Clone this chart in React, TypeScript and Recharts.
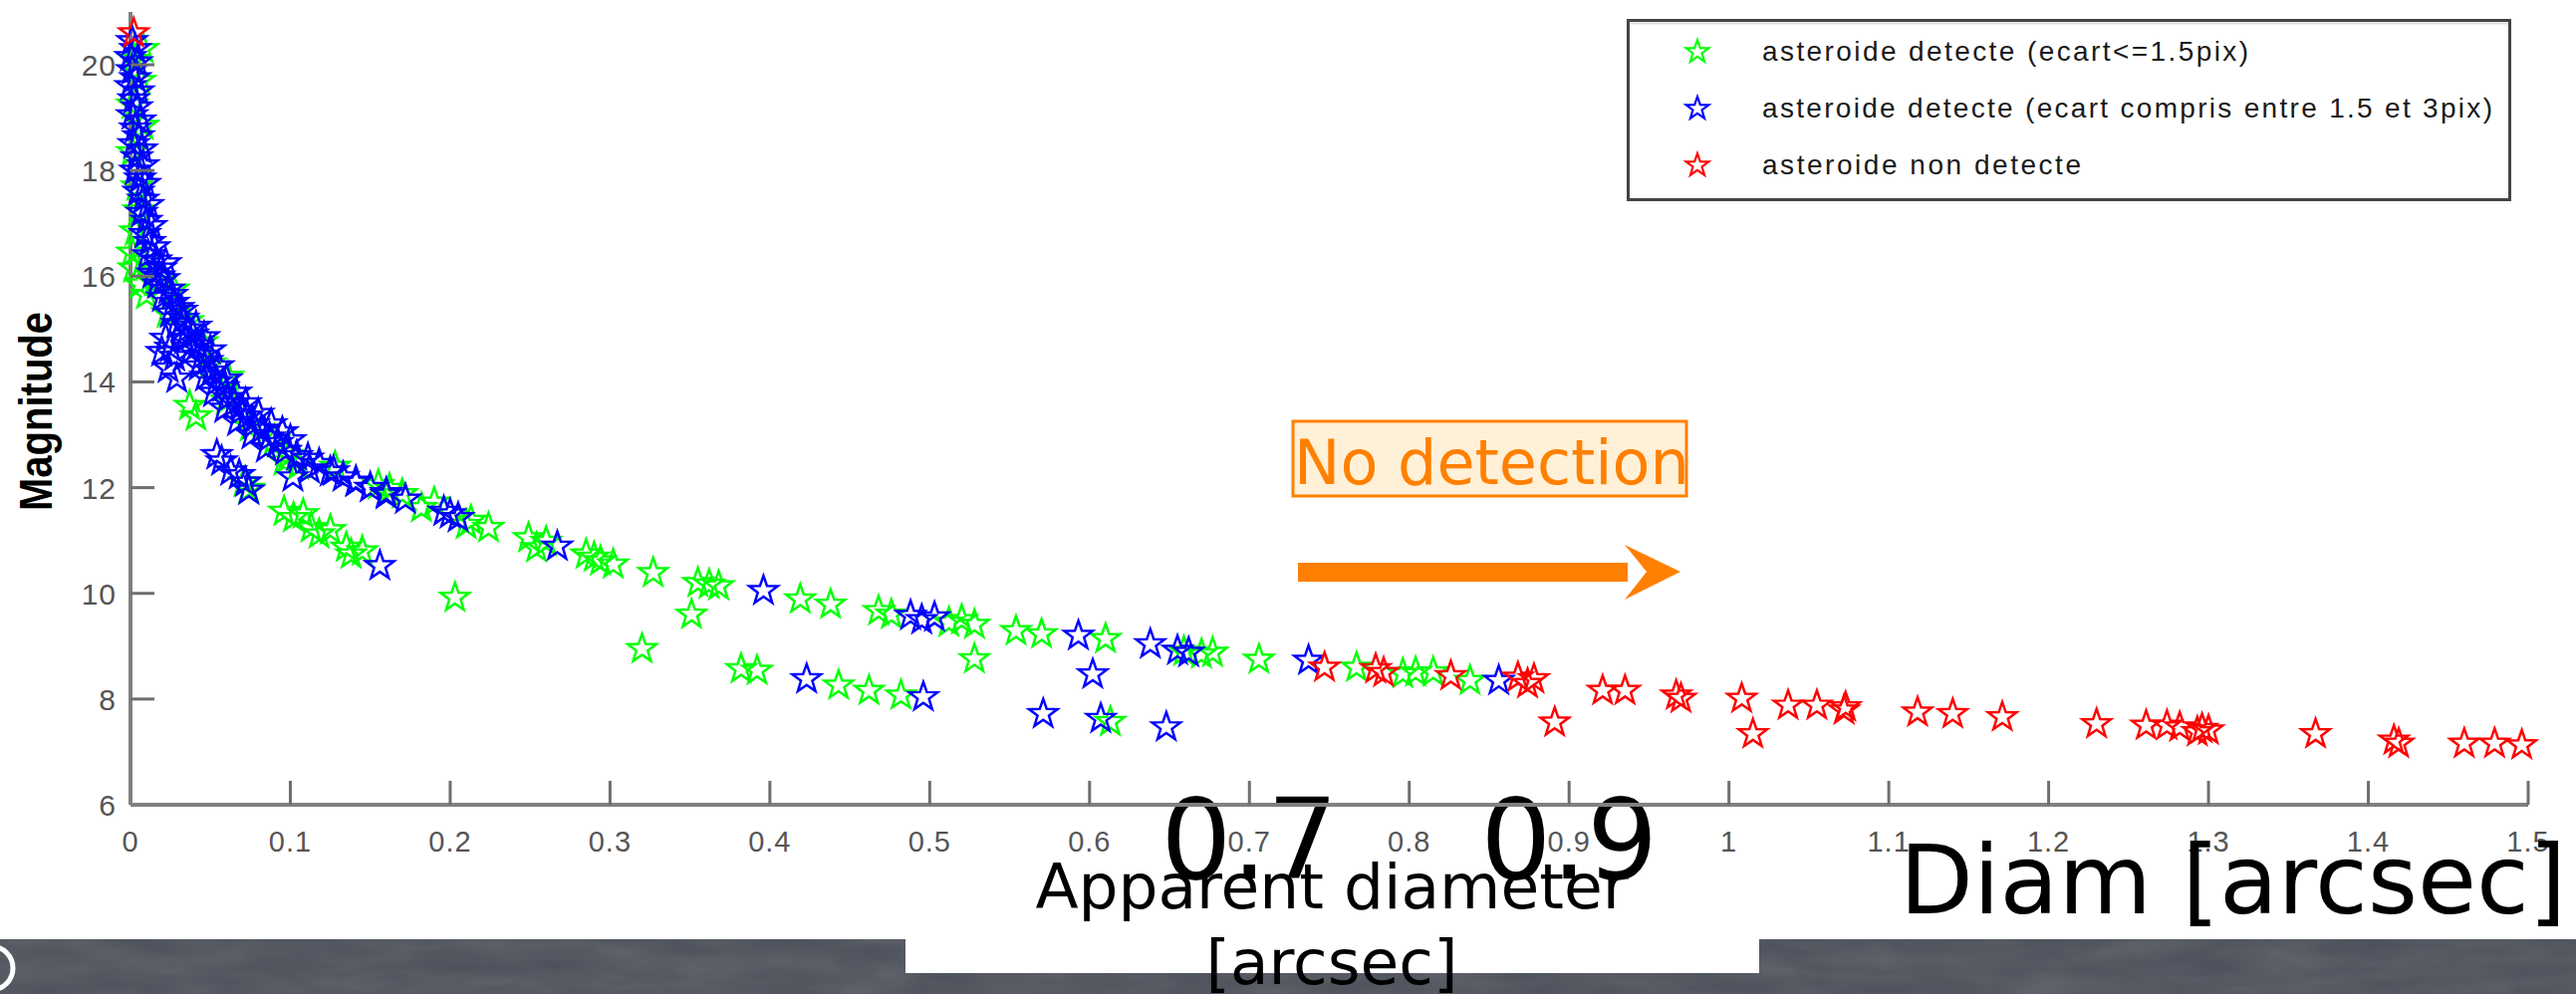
import React from 'react';
import { ScatterChart, Scatter, XAxis, YAxis, Legend, ReferenceLine } from 'recharts';

const W = 2586;
const H = 998;

const X_TICKS = [0, 0.1, 0.2, 0.3, 0.4, 0.5, 0.6, 0.7, 0.8, 0.9, 1, 1.1, 1.2, 1.3, 1.4, 1.5];
const Y_TICKS = [6, 8, 10, 12, 14, 16, 18, 20];
const BIG_TICKS = ['0.7', '0.9'];

// [apparent diameter (arcsec), magnitude]
const GREEN_PTS: [number, number][] = [
  [0.008, 20.3], [0.002, 20.1], [0.006, 19.7], [0.001, 19.25], [0.008, 18.85],
  [0.001, 18.35], [0.004, 17.7], [0.005, 17.25], [0.003, 16.85], [0.001, 16.45],
  [0.002, 16.15], [0.008, 16.3], [0.006, 15.85], [0.01, 15.65], [0.015, 15.9],
  [0.027, 15.75], [0.023, 15.3], [0.036, 15.15], [0.045, 14.75], [0.05, 14.35],
  [0.061, 14.1], [0.06, 13.65], [0.037, 13.55], [0.041, 13.35], [0.075, 13.15],
  [0.09, 12.9], [0.096, 12.5], [0.099, 12.62], [0.105, 12.42], [0.071, 12.1],
  [0.074, 11.98], [0.128, 12.4], [0.155, 12.05], [0.162, 11.98], [0.17, 11.88],
  [0.182, 11.62], [0.19, 11.72], [0.213, 11.38], [0.21, 11.3], [0.224, 11.24],
  [0.249, 11.05], [0.254, 10.86], [0.26, 10.98], [0.285, 10.74], [0.29, 10.68],
  [0.294, 10.61], [0.302, 10.55], [0.327, 10.39], [0.355, 10.2], [0.362, 10.17],
  [0.368, 10.14], [0.351, 9.6], [0.32, 8.95], [0.419, 9.89], [0.438, 9.79],
  [0.468, 9.67], [0.476, 9.6], [0.512, 9.45], [0.52, 9.5], [0.528, 9.41],
  [0.554, 9.29], [0.57, 9.23], [0.61, 9.14], [0.528, 8.76], [0.659, 8.9],
  [0.67, 8.85], [0.677, 8.88], [0.706, 8.75], [0.767, 8.6], [0.796, 8.48],
  [0.804, 8.51], [0.815, 8.51], [0.838, 8.35],
  [0.096, 11.55], [0.102, 11.43], [0.108, 11.5], [0.113, 11.24], [0.118, 11.12],
  [0.125, 11.2], [0.135, 10.87], [0.138, 10.74], [0.145, 10.8], [0.203, 9.92],
  [0.382, 8.57], [0.392, 8.54], [0.443, 8.26], [0.462, 8.16], [0.482, 8.07],
  [0.613, 7.57],
];

const BLUE_PTS: [number, number][] = [
  [0.001, 20.45], [0.003, 20.3], [0.0, 20.15], [0.004, 20.05], [0.001, 19.9],
  [0.003, 19.75], [0.0, 19.6], [0.005, 19.5], [0.002, 19.35], [0.004, 19.2],
  [0.001, 19.05], [0.006, 18.95], [0.003, 18.8], [0.005, 18.65], [0.002, 18.5],
  [0.007, 18.4], [0.004, 18.25], [0.008, 18.1], [0.003, 18.0], [0.006, 17.85],
  [0.009, 17.75], [0.005, 17.6], [0.008, 17.45], [0.011, 17.35], [0.007, 17.2],
  [0.01, 17.05], [0.013, 16.95], [0.009, 16.8], [0.012, 16.65], [0.015, 16.55],
  [0.011, 16.4], [0.016, 16.3], [0.019, 16.15], [0.014, 16.05], [0.021, 15.95],
  [0.017, 15.85], [0.024, 15.75], [0.02, 15.6], [0.027, 15.5], [0.03, 15.4],
  [0.025, 15.3], [0.033, 15.2], [0.029, 15.1], [0.036, 15.0], [0.039, 14.9],
  [0.034, 14.8], [0.042, 14.7], [0.038, 14.6], [0.045, 14.5], [0.048, 14.4],
  [0.043, 14.3], [0.051, 14.2], [0.047, 14.1], [0.054, 14.0], [0.058, 13.9],
  [0.052, 13.8], [0.061, 13.7], [0.065, 13.6], [0.059, 13.5], [0.069, 13.45],
  [0.073, 13.35], [0.067, 13.25], [0.077, 13.2], [0.082, 13.1], [0.076, 13.0],
  [0.087, 12.95], [0.092, 12.85], [0.085, 12.75], [0.097, 12.7], [0.104, 12.6],
  [0.111, 12.55], [0.118, 12.45], [0.112, 12.35], [0.125, 12.3], [0.133, 12.2],
  [0.141, 12.1], [0.15, 12.0], [0.16, 11.9], [0.127, 12.31], [0.141, 12.12],
  [0.16, 11.87], [0.172, 11.78], [0.196, 11.55], [0.2, 11.5], [0.205, 11.43],
  [0.267, 10.89], [0.396, 10.05], [0.488, 9.58], [0.495, 9.5], [0.503, 9.55],
  [0.593, 9.2], [0.638, 9.04], [0.655, 8.92], [0.662, 8.88], [0.737, 8.73],
  [0.856, 8.35],
  [0.018, 16.0], [0.022, 16.25], [0.026, 15.65], [0.032, 15.35], [0.041, 15.05],
  [0.046, 14.85], [0.05, 14.6], [0.055, 14.3], [0.06, 14.05], [0.066, 13.8],
  [0.072, 13.6], [0.08, 13.4], [0.088, 13.2], [0.095, 13.05], [0.1, 12.9],
  [0.022, 14.82], [0.0195, 14.57], [0.025, 14.65], [0.0276, 14.48], [0.0236, 14.26],
  [0.029, 14.07], [0.054, 12.62], [0.057, 12.5], [0.0627, 12.31], [0.068, 12.24],
  [0.072, 12.1], [0.074, 11.95], [0.1016, 12.2],
  [0.156, 10.52], [0.423, 8.38], [0.496, 8.04], [0.571, 7.72], [0.602, 8.47],
  [0.607, 7.63], [0.648, 7.47],
];

const RED_PTS: [number, number][] = [
  [0.002, 20.6], [0.747, 8.6], [0.779, 8.57], [0.784, 8.5], [0.826, 8.44],
  [0.868, 8.41], [0.874, 8.29], [0.878, 8.38], [0.891, 7.56], [0.921, 8.16],
  [0.935, 8.16], [0.967, 8.07], [0.97, 8.01], [1.008, 8.01], [1.015, 7.34],
  [1.037, 7.88], [1.055, 7.88], [1.073, 7.85], [1.072, 7.79], [1.118, 7.75],
  [1.14, 7.72], [1.171, 7.66], [1.23, 7.53], [1.261, 7.5], [1.274, 7.5],
  [1.282, 7.47], [1.296, 7.44], [1.3, 7.41], [1.293, 7.38], [1.367, 7.34],
  [1.416, 7.22], [1.419, 7.16], [1.46, 7.16], [1.479, 7.16], [1.496, 7.13],
];

const SERIES = [
  { name: 'asteroide detecte (ecart<=1.5pix)', color: '#00ff00', pts: GREEN_PTS, textLen: 488 },
  { name: 'asteroide detecte (ecart compris entre 1.5 et 3pix)', color: '#0000ff', pts: BLUE_PTS, textLen: 733 },
  { name: 'asteroide non detecte', color: '#ff0000', pts: RED_PTS, textLen: 320 },
];

const toRows = (pts: [number, number][]) => pts.map(([d, m]) => ({ d, m }));

// pentagram outline, point up
const starPath = (cx: number, cy: number, r: number) => {
  const inner = r * 0.4;
  let d = '';
  for (let k = 0; k < 10; k++) {
    const rad = k % 2 === 0 ? r : inner;
    const a = -Math.PI / 2 + (k * Math.PI) / 5;
    d += `${k === 0 ? 'M' : 'L'}${(cx + rad * Math.cos(a)).toFixed(2)},${(cy + rad * Math.sin(a)).toFixed(2)}`;
  }
  return d + 'Z';
};

const makeStar = (color: string) => (props: any) => {
  const { cx, cy } = props;
  if (cx == null || cy == null) return <g />;
  return <path d={starPath(cx, cy, 15)} fill="none" stroke={color} strokeWidth={2.5} />;
};

const TICK_FONT = "'Liberation Sans', Arial, sans-serif";
const BIG_FONT = "'DejaVu Sans', Verdana, sans-serif";

const XTick = ({ x, y, payload }: any) => {
  const v = payload.value;
  return (
    <g>
      {v !== 0 && <line x1={x} y1={y} x2={x} y2={y - 24} stroke="#6e6e6e" strokeWidth={3} />}
      <text x={x} y={y + 47} textAnchor="middle" fontFamily={TICK_FONT} fontSize={29} letterSpacing={1} fill="#555">
        {String(v)}
      </text>
    </g>
  );
};

const YTick = ({ x, y, payload }: any) => {
  const v = payload.value;
  return (
    <g>
      {v !== 6 && <line x1={x} y1={y} x2={x + 24} y2={y} stroke="#6e6e6e" strokeWidth={3} />}
      <text x={x - 14} y={y + 11} textAnchor="end" fontFamily={TICK_FONT} fontSize={30} letterSpacing={1} fill="#555">
        {String(v)}
      </text>
    </g>
  );
};

const MagLabel = ({ viewBox }: any) => {
  const vb = viewBox || { x: 0, y: 12, width: 131, height: 796 };
  return (
    <text
      transform={`translate(${vb.x + 52},${vb.y + vb.height / 2 + 3}) rotate(-90)`}
      textAnchor="middle"
      fontFamily="'Liberation Sans Narrow', 'Liberation Sans', Arial, sans-serif"
      fontWeight="bold"
      fontSize={46}
      textLength={200}
      lengthAdjust="spacingAndGlyphs"
      fill="#000"
    >
      Magnitude
    </text>
  );
};

const BigTickLabel = ({ viewBox, text }: any) => {
  if (!viewBox) return null;
  return (
    <text x={viewBox.x} y={viewBox.y + viewBox.height + 74} textAnchor="middle" fontFamily={BIG_FONT} fontSize={112} fill="#000">
      {text}
    </text>
  );
};

const LegendBox = () => (
  <svg width={888} height={183} style={{ display: 'block' }}>
    <rect x={1.5} y={1.5} width={885} height={180} fill="#fff" stroke="#444" strokeWidth={3} />
    <line x1={3} y1={4.5} x2={885} y2={4.5} stroke="#ddd" strokeWidth={2} />
    {SERIES.map((s, i) => {
      const cy = 33 + i * 57;
      return (
        <g key={s.name}>
          <path d={starPath(71, cy, 12)} fill="none" stroke={s.color} strokeWidth={2.2} />
          <text
            x={136}
            y={cy + 9}
            fontFamily="'Liberation Sans Narrow', 'Liberation Sans', Arial, sans-serif"
            fontSize={28}
            textLength={s.textLen}
            fill="#1a1a1a"
          >
            {s.name}
          </text>
        </g>
      );
    })}
  </svg>
);

export default function App() {
  return (
    <div style={{ position: 'absolute', left: 0, top: 0, width: W, height: H, background: '#fff', overflow: 'hidden' }}>
      <ScatterChart width={W} height={H} margin={{ top: 12, right: 48, left: 0, bottom: 130 }}>
        <XAxis
          type="number"
          dataKey="d"
          domain={[0, 1.5]}
          ticks={X_TICKS}
          interval={0}
          tickSize={0}
          tickMargin={0}
          tickLine={false}
          height={60}
          axisLine={{ stroke: '#808080', strokeWidth: 4 }}
          tick={(p: any) => <XTick {...p} />}
        />
        <YAxis
          type="number"
          dataKey="m"
          domain={[6, 21]}
          ticks={Y_TICKS}
          interval={0}
          width={131}
          tickSize={0}
          tickMargin={0}
          tickLine={false}
          axisLine={{ stroke: '#808080', strokeWidth: 4 }}
          tick={(p: any) => <YTick {...p} />}
          label={<MagLabel />}
        />
        {BIG_TICKS.map((t) => (
          <ReferenceLine key={t} x={Number(t)} stroke="none" label={<BigTickLabel text={t} />} />
        ))}
        <Legend
          layout="vertical"
          align="center"
          verticalAlign="middle"
          wrapperStyle={{ position: 'absolute', left: 1633, top: 19, width: 888, height: 183 }}
          content={() => <LegendBox />}
        />
        {SERIES.map((s) => (
          <Scatter
            key={s.name}
            name={s.name}
            data={toRows(s.pts)}
            fill={s.color}
            shape={makeStar(s.color)}
            isAnimationActive={false}
          />
        ))}
      </ScatterChart>

      <svg width={W} height={H} style={{ position: 'absolute', left: 0, top: 0, pointerEvents: 'none' }}>
        <defs>
          <filter id="grain" x="0" y="0" width="100%" height="100%">
            <feTurbulence type="fractalNoise" baseFrequency="0.012 0.05" numOctaves={3} seed={7} />
            <feColorMatrix type="saturate" values="0" />
          </filter>
        </defs>
        {/* slide background strip */}
        <rect x={0} y={943} width={W} height={H - 943} fill="#4c505a" />
        <rect x={0} y={943} width={W} height={H - 943} filter="url(#grain)" opacity={0.18} />
        <circle cx={-9} cy={972} r={22} fill="none" stroke="#fff" strokeWidth={5} />
        <rect x={909} y={930} width={857} height={47} fill="#fff" />

        <text x={1337} textAnchor="middle" fontFamily={BIG_FONT} fontSize={63} fill="#000">
          <tspan x={1337} y={912}>Apparent diameter</tspan>
          <tspan x={1337} y={988}>[arcsec]</tspan>
        </text>
        <text x={1907} y={917} fontFamily={BIG_FONT} fontSize={96} fill="#000">
          Diam [arcsec]
        </text>

        <rect x={1298} y={423} width={395} height={75} fill="#fff0d8" stroke="#ff8000" strokeWidth={3} />
        <text x={1299} y={486} fontFamily={BIG_FONT} fontSize={62} fill="#ff8000">
          No detection
        </text>
        <rect x={1303} y={565} width={331} height={19} fill="#ff8000" />
        <polygon points="1687,574 1631,547 1653,574 1631,602" fill="#ff8000" />
      </svg>
    </div>
  );
}
